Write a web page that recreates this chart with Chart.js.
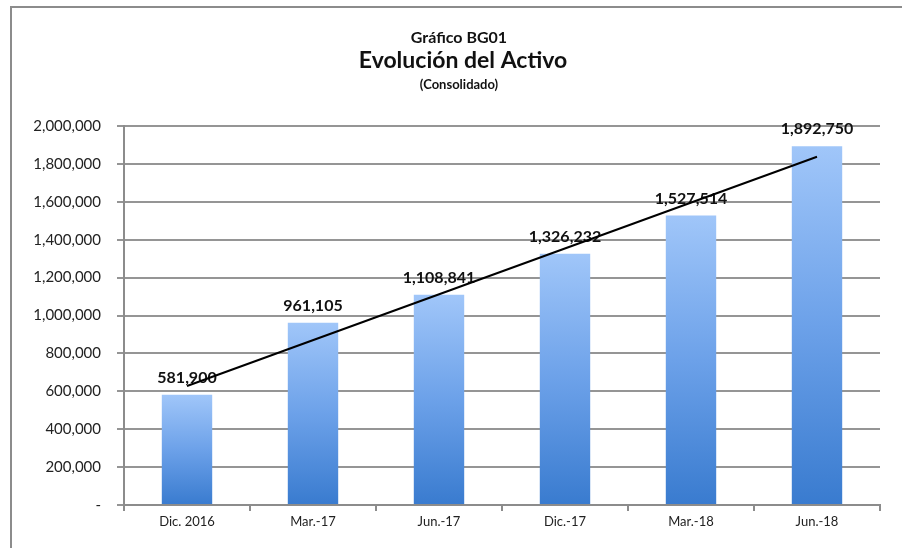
<!DOCTYPE html>
<html lang="es">
<head>
    <meta charset="UTF-8">
    <title>Evolución del Activo</title>
    <script src="https://cdn.jsdelivr.net/npm/chart.js"></script>
    <style>
        body {
            margin: 0;
            background-color: #fff;
        }
        #wrap {
            width: 902px;
            height: 548px;
        }
    </style>
</head>
<body>
    <div id="wrap"><canvas id="activoChart" width="902" height="548"></canvas></div>

    <script>
        const periods = ['Dic. 2016', 'Mar.-17', 'Jun.-17', 'Dic.-17', 'Mar.-18', 'Jun.-18'];
        const activo = [581900, 961105, 1108841, 1326232, 1527514, 1892750];
        // trend line (start and end only)
        const trend = [628000, null, null, null, null, 1838000];
        const yTicks = [0, 200000, 400000, 600000, 800000, 1000000, 1200000, 1400000, 1600000, 1800000, 2000000];

        const FONT = 'Lato, "Open Sans", sans-serif';

        function fmt(n) {
            return n.toLocaleString('en-US');
        }

        function barFill(context) {
            const chart = context.chart;
            if (!chart.chartArea || !chart.scales.y) return '#6fa3e8';
            const y = chart.scales.y;
            const top = y.getPixelForValue(context.raw || 0);
            const bottom = y.getPixelForValue(0);
            if (!isFinite(top) || top === bottom) return '#6fa3e8';
            const g = chart.ctx.createLinearGradient(0, top, 0, bottom);
            g.addColorStop(0, '#a0c6f9');
            g.addColorStop(0.5, '#6ca1e9');
            g.addColorStop(1, '#397bcf');
            return g;
        }

        // outer frame + three title lines
        const framePlugin = {
            id: 'frame',
            beforeDraw(chart) {
                const c = chart.ctx;
                c.save();
                c.fillStyle = '#fff';
                c.fillRect(0, 0, chart.width, chart.height);
                c.strokeStyle = '#8c8c8c';
                c.lineWidth = 2;
                c.beginPath();
                c.moveTo(11, chart.height);
                c.lineTo(11, 7);
                c.lineTo(chart.width, 7);
                c.stroke();
                c.restore();
            },
            afterDraw(chart) {
                const c = chart.ctx;
                c.save();
                c.fillStyle = '#111';
                c.textAlign = 'center';
                c.textBaseline = 'middle';
                c.font = 'bold 16px ' + FONT;
                c.fillText('Gráfico BG01', 459, 38);
                c.font = 'bold 23px ' + FONT;
                c.fillText('Evolución del Activo', 463, 61);
                c.font = 'bold 13px ' + FONT;
                c.fillText('(Consolidado)', 459, 85);
                c.restore();
            }
        };

        // value labels above bars, drawn before the trend line
        const labelPlugin = {
            id: 'barLabels',
            afterDatasetDraw(chart, args) {
                if (args.index !== 0) return;
                const c = chart.ctx;
                c.save();
                c.fillStyle = '#111';
                c.font = 'bold 16px ' + FONT;
                c.textAlign = 'center';
                c.textBaseline = 'middle';
                args.meta.data.forEach((bar, i) => {
                    c.fillText(fmt(activo[i]), bar.x, bar.y - 17);
                });
                c.restore();
            }
        };

        new Chart(document.getElementById('activoChart'), {
            data: {
                labels: periods,
                datasets: [
                    {
                        type: 'bar',
                        data: activo,
                        backgroundColor: barFill,
                        categoryPercentage: 1,
                        barPercentage: 0.4,
                        order: 1
                    },
                    {
                        type: 'line',
                        data: trend,
                        spanGaps: true,
                        borderColor: '#000',
                        borderWidth: 2,
                        pointRadius: 0,
                        order: 0
                    }
                ]
            },
            options: {
                responsive: false,
                animation: false,
                layout: { padding: { left: 11, top: 126, right: 22, bottom: 0 } },
                plugins: {
                    legend: { display: false },
                    title: { display: false },
                    tooltip: { enabled: false }
                },
                scales: {
                    x: {
                        afterFit(s) { s.height = 43; },
                        grid: {
                            drawOnChartArea: false,
                            drawTicks: true,
                            tickLength: 6,
                            color: '#8c8c8c',
                            lineWidth: 2
                        },
                        border: { color: '#8c8c8c', width: 2 },
                        ticks: {
                            color: '#222',
                            font: { family: FONT, size: 13 },
                            padding: 3
                        }
                    },
                    y: {
                        min: 0,
                        max: 2000000,
                        afterFit(s) { s.width = 113; },
                        afterBuildTicks(s) { s.ticks = yTicks.map(v => ({ value: v })); },
                        grid: {
                            color: '#959595',
                            lineWidth: 2,
                            tickLength: 7
                        },
                        border: { color: '#8c8c8c', width: 2 },
                        ticks: {
                            color: '#222',
                            font: { family: FONT, size: 15 },
                            padding: 16,
                            callback: v => v === 0 ? '-' : fmt(v)
                        }
                    }
                }
            },
            plugins: [framePlugin, labelPlugin]
        });
    </script>
</body>
</html>
